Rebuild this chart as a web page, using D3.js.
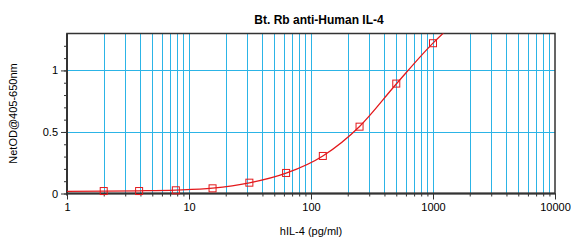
<!DOCTYPE html>
<html>
<head>
<meta charset="utf-8">
<script src="https://cdnjs.cloudflare.com/ajax/libs/d3/7.8.5/d3.min.js"></script>
<style>
    body { margin: 0; background: #fff; }
    svg text { font-family: "Liberation Sans", Arial, sans-serif; fill: #000; }
</style>
</head>
<body>
<div class="chart"></div>
<script>
// standard concentrations (pg/ml) and measured net OD
var concentrations = [2, 3.9, 7.8, 15.6, 31.25, 62.5, 125, 250, 500, 1000];
var netOD = [0.020, 0.020, 0.026, 0.042, 0.088, 0.167, 0.305, 0.543, 0.893, 1.221];
// points along the fitted curve
var fitX = [1, 2, 3.9, 7.8, 15.6, 31.25, 62.5, 125, 250, 500, 1000, 1400];
var fitY = [0.017, 0.019, 0.022, 0.028, 0.043, 0.086, 0.165, 0.305, 0.545, 0.890, 1.222, 1.36];
var xTickValues = [1, 10, 100, 1000, 10000];
var yTickValues = [0, 0.5, 1];

var Chart = {
    width: 571,
    height: 240,
    left: 67,
    right: 555,
    top: 33.5,
    bottom: 193.5,
    gridColor: "#2cb4e6",
    lineColor: "#e3191c",
    frameColor: "#333",
    svg: null,
    x: null,
    y: null,
    init: function () {
        this.svg = d3.select(".chart").append("svg")
            .attr("width", this.width)
            .attr("height", this.height);

        this.x = d3.scaleLog().domain([1, 10000]).range([this.left, this.right]);
        this.y = d3.scaleLinear().domain([0, 1.3]).range([this.bottom, this.top]);

        this.addGrid()
            .addAxes()
            .addCurve()
            .addPoints()
            .addTexts();
    },
    minorX: function () {
        var ticks = [];
        for (var d = 1; d < 10000; d *= 10) {
            for (var k = 1; k <= 10; k++) ticks.push(d * k);
        }
        return ticks;
    },
    addGrid: function () {
        var x = this.x, y = this.y;
        var g = this.svg.append("g");

        g.selectAll(".vgrid")
            .data(this.minorX().filter(function (v) { return v > 1 && v < 10000; }))
            .enter().append("line")
            .attr("x1", function (d) { return Math.round(x(d)) + 0.5; })
            .attr("x2", function (d) { return Math.round(x(d)) + 0.5; })
            .attr("y1", this.top)
            .attr("y2", this.bottom)
            .attr("stroke", this.gridColor)
            .attr("stroke-width", 1);

        g.selectAll(".hgrid")
            .data(yTickValues.filter(function (v) { return v > 0; }))
            .enter().append("line")
            .attr("x1", this.left)
            .attr("x2", this.right)
            .attr("y1", function (d) { return Math.round(y(d)) + 0.5; })
            .attr("y2", function (d) { return Math.round(y(d)) + 0.5; })
            .attr("stroke", this.gridColor)
            .attr("stroke-width", 1);

        return this;
    },
    addAxes: function () {
        var x = this.x, y = this.y;

        // minor ticks
        var xMinor = d3.axisBottom(x).tickValues(this.minorX()).tickSize(3).tickFormat("");
        var yMinor = d3.axisLeft(y).tickValues(d3.range(0, 13).map(function (i) { return i / 10; })).tickSize(3).tickFormat("");
        var xMajor = d3.axisBottom(x).tickValues(xTickValues).tickSize(6).tickPadding(4).tickFormat(d3.format("d"));
        var yMajor = d3.axisLeft(y).tickValues(yTickValues).tickSize(6).tickPadding(3).tickFormat(function (d) { return d; });

        [xMinor, xMajor].forEach(function (ax) {
            var g = Chart.svg.append("g").attr("transform", "translate(0," + Chart.bottom + ")").call(ax);
            g.select(".domain").remove();
            g.selectAll("line").attr("stroke", "#333");
            g.selectAll("text").style("font-size", "11px").style("font-family", "'Liberation Sans', Arial, sans-serif");
        });
        [yMinor, yMajor].forEach(function (ax) {
            var g = Chart.svg.append("g").attr("transform", "translate(" + Chart.left + ",0)").call(ax);
            g.select(".domain").remove();
            g.selectAll("line").attr("stroke", "#333");
            g.selectAll("text").style("font-size", "11px").style("font-family", "'Liberation Sans', Arial, sans-serif");
        });

        // frame
        this.svg.append("rect")
            .attr("x", this.left)
            .attr("y", this.top)
            .attr("width", this.right - this.left)
            .attr("height", this.bottom - this.top)
            .attr("fill", "none")
            .attr("stroke", this.frameColor)
            .attr("stroke-width", 1.5);
        this.svg.append("line")
            .attr("x1", this.left).attr("x2", this.left)
            .attr("y1", this.top).attr("y2", this.bottom + 2)
            .attr("stroke", this.frameColor).attr("stroke-width", 2);
        this.svg.append("line")
            .attr("x1", this.left).attr("x2", this.right)
            .attr("y1", this.bottom).attr("y2", this.bottom)
            .attr("stroke", this.frameColor).attr("stroke-width", 2);

        return this;
    },
    addCurve: function () {
        var x = this.x, y = this.y;
        this.svg.append("clipPath").attr("id", "plotClip")
            .append("rect")
            .attr("x", this.left).attr("y", this.top)
            .attr("width", this.right - this.left).attr("height", this.bottom - this.top);

        var line = d3.line()
            .x(function (d, i) { return x(fitX[i]); })
            .y(function (d) { return y(d); })
            .curve(d3.curveMonotoneX);

        this.svg.append("path")
            .datum(fitY)
            .attr("clip-path", "url(#plotClip)")
            .attr("d", line)
            .attr("fill", "none")
            .attr("stroke", this.lineColor)
            .attr("stroke-width", 1.3);

        return this;
    },
    addPoints: function () {
        var x = this.x, y = this.y;
        this.svg.selectAll(".pt")
            .data(netOD)
            .enter().append("rect")
            .attr("x", function (d, i) { return x(concentrations[i]) - 3.5; })
            .attr("y", function (d) { return y(d) - 3.5; })
            .attr("width", 7)
            .attr("height", 7)
            .attr("fill", "none")
            .attr("stroke", this.lineColor)
            .attr("stroke-width", 1);

        return this;
    },
    addTexts: function () {
        this.svg.append("text")
            .attr("x", 319)
            .attr("y", 24)
            .attr("text-anchor", "middle")
            .style("font-size", "12px")
            .style("font-weight", "bold")
            .text("Bt. Rb anti-Human IL-4");

        this.svg.append("text")
            .attr("x", (this.left + this.right) / 2)
            .attr("y", 235)
            .attr("text-anchor", "middle")
            .style("font-size", "11px")
            .text("hIL-4 (pg/ml)");

        this.svg.append("text")
            .attr("transform", "translate(17," + ((this.top + this.bottom) / 2) + ") rotate(-90)")
            .attr("text-anchor", "middle")
            .style("font-size", "11px")
            .text("NetOD@405-650nm");

        return this;
    }
};

Chart.init();
</script>
</body>
</html>
